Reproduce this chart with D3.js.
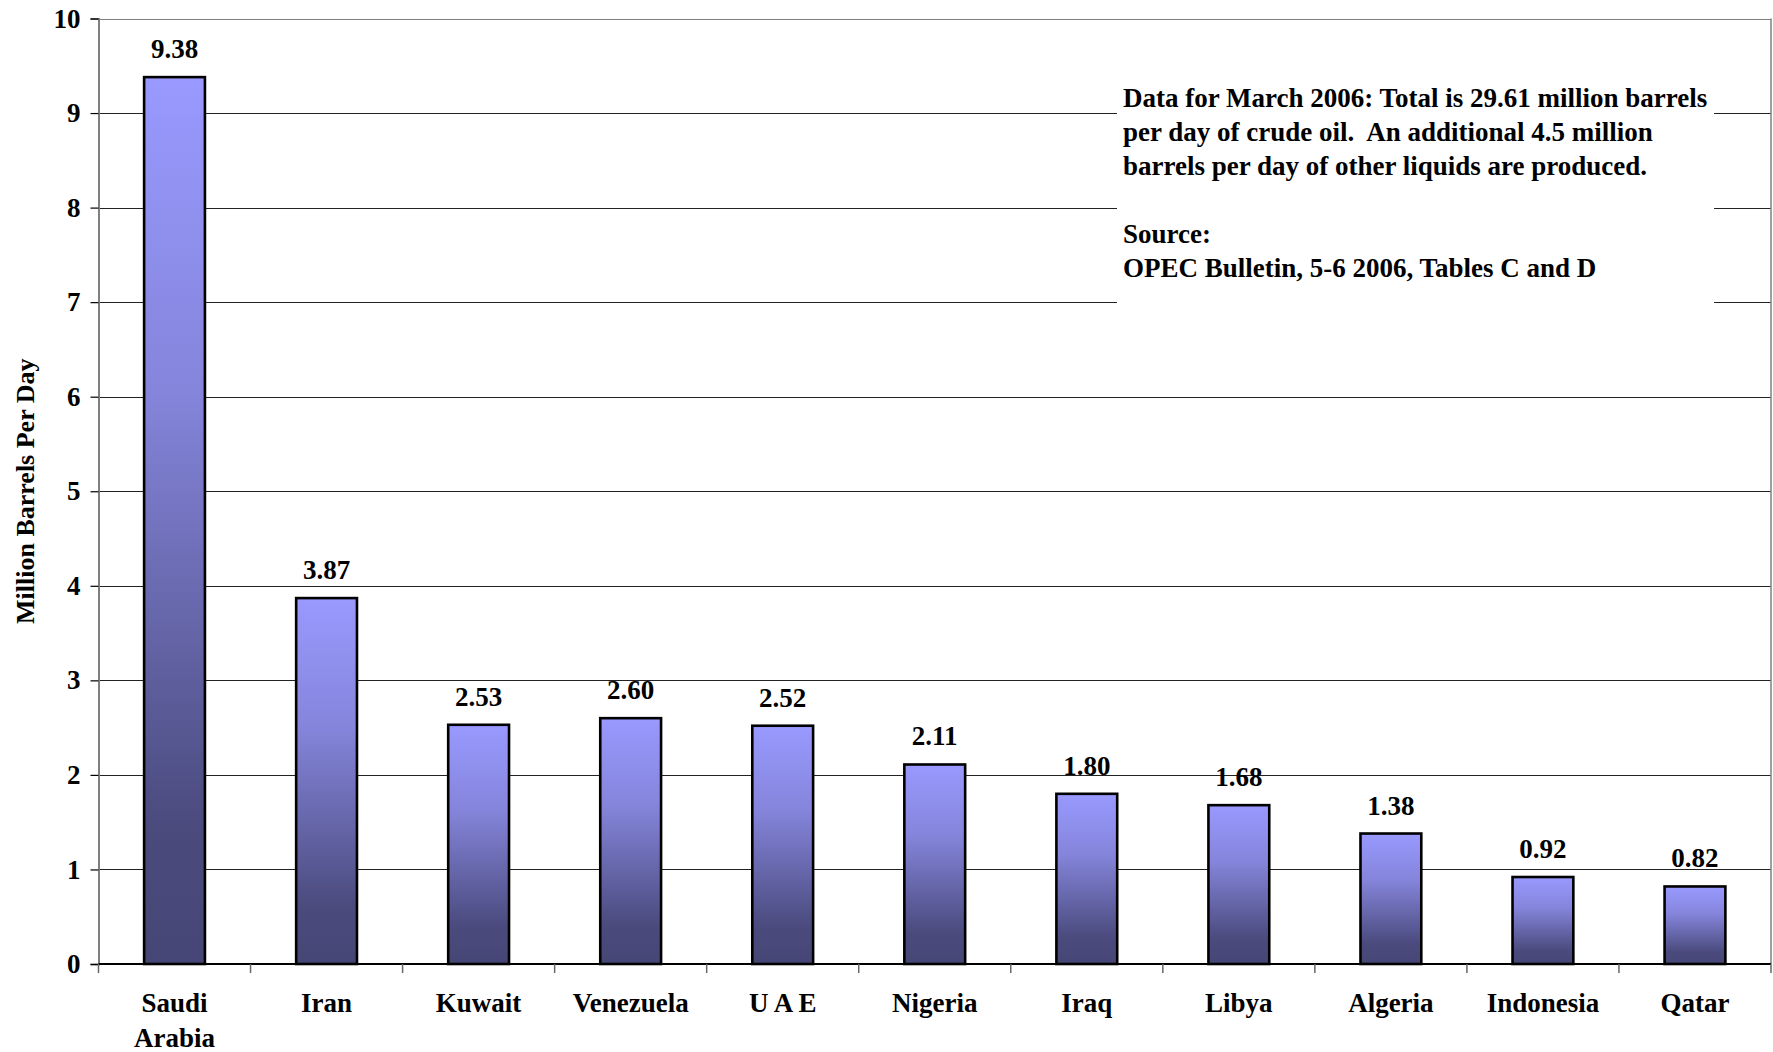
<!DOCTYPE html>
<html>
<head>
<meta charset="utf-8">
<script src="https://cdn.jsdelivr.net/npm/d3@7"></script>
<style>
  html, body { margin: 0; padding: 0; background: #fff; }
  svg { display: block; }
  text { font-family: "Liberation Serif", "Times New Roman", serif; font-weight: bold; fill: #000; }
</style>
</head>
<body>
<svg id="chart" width="1773" height="1052"></svg>
<script>
// OPEC crude oil production by member, March 2006 (million barrels per day)
const categories = ["Saudi Arabia", "Iran", "Kuwait", "Venezuela", "U A E", "Nigeria", "Iraq", "Libya", "Algeria", "Indonesia", "Qatar"];
const categoryLines = [["Saudi", "Arabia"], ["Iran"], ["Kuwait"], ["Venezuela"], ["U A E"], ["Nigeria"], ["Iraq"], ["Libya"], ["Algeria"], ["Indonesia"], ["Qatar"]];
const production = [9.38, 3.87, 2.53, 2.60, 2.52, 2.11, 1.80, 1.68, 1.38, 0.92, 0.82];
const yTicks = [0, 1, 2, 3, 4, 5, 6, 7, 8, 9, 10];
const yAxisTitle = "Million Barrels Per Day";
const noteLines = [
  "Data for March 2006: Total is 29.61 million barrels",
  "per day of crude oil.  An additional 4.5 million",
  "barrels per day of other liquids are produced.",
  "",
  "Source:",
  "OPEC Bulletin, 5-6 2006, Tables C and D"
];

const FONT_SIZE = 27;
const svg = d3.select("#chart");
const plot = { left: 98.5, right: 1771, top: 18.5, bottom: 964 };

const x = d3.scaleBand()
  .domain(categories)
  .range([plot.left, plot.right])
  .paddingInner(0.6)
  .paddingOuter(0.3);

const xEdges = d3.scaleLinear()
  .domain([0, categories.length])
  .range([plot.left, plot.right]);

const y = d3.scaleLinear()
  .domain([0, 10])
  .range([plot.bottom, plot.top]);

// Bar fill: light periwinkle at the top fading to slate at the base
const defs = svg.append("defs");
const grad = defs.append("linearGradient")
  .attr("id", "barFill")
  .attr("x1", 0).attr("y1", 0).attr("x2", 0).attr("y2", 1);
grad.append("stop").attr("offset", "0%").attr("stop-color", "#9999FF");
grad.append("stop").attr("offset", "35%").attr("stop-color", "#8585DC");
grad.append("stop").attr("offset", "85%").attr("stop-color", "#4A4A7D");
grad.append("stop").attr("offset", "100%").attr("stop-color", "#464676");

// Horizontal gridlines
svg.append("g")
  .selectAll("line")
  .data(yTicks.filter(d => d > 0))
  .join("line")
  .attr("x1", plot.left).attr("x2", plot.right)
  .attr("y1", d => Math.round(y(d)) + 0.5).attr("y2", d => Math.round(y(d)) + 0.5)
  .attr("stroke", d => d === 10 ? "#808080" : "#222")
  .attr("stroke-width", 1.2);

// Right border of the plot area
svg.append("line")
  .attr("x1", plot.right).attr("x2", plot.right)
  .attr("y1", plot.top).attr("y2", plot.bottom)
  .attr("stroke", "#808080").attr("stroke-width", 1.5);

// Note box (covers the gridlines behind it)
svg.append("rect")
  .attr("x", 1117).attr("y", 60)
  .attr("width", 597).attr("height", 260)
  .attr("fill", "#fff");

svg.append("g")
  .selectAll("text")
  .data(noteLines)
  .join("text")
  .attr("x", 1123)
  .attr("y", (d, i) => 107 + i * 34)
  .attr("font-size", FONT_SIZE)
  .style("white-space", "pre")
  .attr("xml:space", "preserve")
  .text(d => d);

// Bars
svg.append("g")
  .selectAll("rect")
  .data(production)
  .join("rect")
  .attr("x", (d, i) => x(categories[i]))
  .attr("y", d => y(d))
  .attr("width", x.bandwidth())
  .attr("height", d => y(0) - y(d))
  .attr("fill", "url(#barFill)")
  .attr("stroke", "#000")
  .attr("stroke-width", 2.6);

// Value labels
svg.append("g")
  .selectAll("text")
  .data(production)
  .join("text")
  .attr("x", (d, i) => x(categories[i]) + x.bandwidth() / 2)
  .attr("y", d => y(d) - 19)
  .attr("text-anchor", "middle")
  .attr("font-size", FONT_SIZE)
  .text(d => d.toFixed(2));

// Y axis
const yAxis = d3.axisLeft(y)
  .tickValues(yTicks)
  .tickSize(8)
  .tickPadding(10)
  .tickFormat(d3.format("d"));
const yG = svg.append("g")
  .attr("transform", `translate(${plot.left},0)`)
  .call(yAxis);
yG.select(".domain").attr("stroke", "#808080").attr("stroke-width", 2);
yG.selectAll(".tick line").attr("stroke", "#000").attr("stroke-width", 1.2);
yG.selectAll(".tick text")
  .attr("font-family", "Liberation Serif")
  .attr("font-weight", "bold")
  .attr("font-size", FONT_SIZE)
  .attr("fill", "#000");

// X axis line and category separators
svg.append("line")
  .attr("x1", plot.left).attr("x2", plot.right)
  .attr("y1", plot.bottom).attr("y2", plot.bottom)
  .attr("stroke", "#000").attr("stroke-width", 2);

svg.append("g")
  .selectAll("line")
  .data(d3.range(categories.length + 1))
  .join("line")
  .attr("x1", d => xEdges(d)).attr("x2", d => xEdges(d))
  .attr("y1", plot.bottom).attr("y2", plot.bottom + 9)
  .attr("stroke", "#666").attr("stroke-width", 1.5);

// Category labels
const catG = svg.append("g")
  .selectAll("text")
  .data(categoryLines)
  .join("text")
  .attr("x", (d, i) => x(categories[i]) + x.bandwidth() / 2)
  .attr("y", 1012)
  .attr("text-anchor", "middle")
  .attr("font-size", FONT_SIZE);
catG.selectAll("tspan")
  .data(d => d)
  .join("tspan")
  .attr("x", function () { return d3.select(this.parentNode).attr("x"); })
  .attr("dy", (d, i) => i === 0 ? 0 : 35)
  .text(d => d);

// Y axis title
svg.append("text")
  .attr("transform", `translate(34,${(plot.top + plot.bottom) / 2}) rotate(-90)`)
  .attr("text-anchor", "middle")
  .attr("font-size", 26)
  .text(yAxisTitle);
</script>
</body>
</html>
